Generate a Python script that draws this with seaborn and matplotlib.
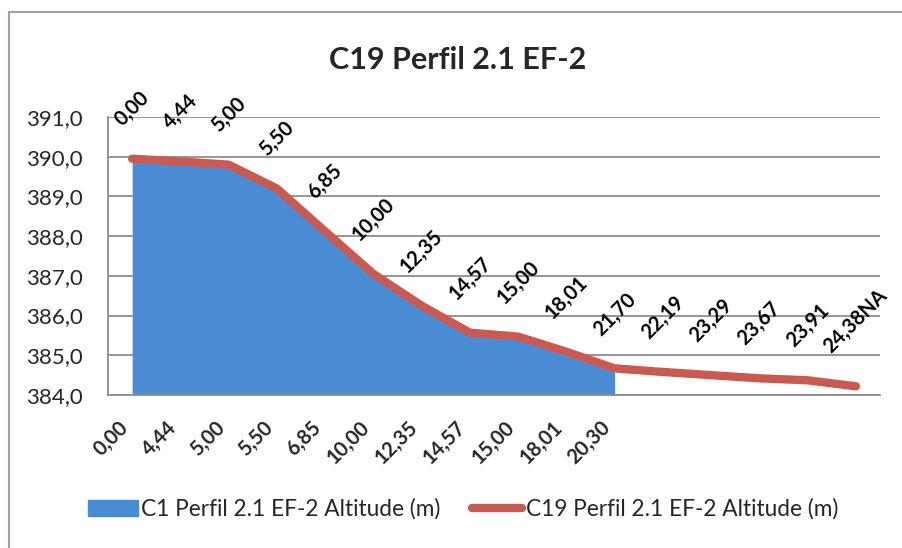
import matplotlib
matplotlib.use("Agg")
import matplotlib.pyplot as plt
import seaborn as sns
import pandas as pd
from matplotlib.patches import Rectangle, Patch
from matplotlib.lines import Line2D

title = "C19 Perfil 2.1 EF-2"
area_name = "C1 Perfil 2.1 EF-2 Altitude (m)"
line_name = "C19 Perfil 2.1 EF-2 Altitude (m)"

category_labels = ["0,00", "4,44", "5,00", "5,50", "6,85", "10,00", "12,35",
                   "14,57", "15,00", "18,01", "20,30"]
area_values = [389.88, 389.80, 389.72, 389.15, 388.05, 387.00, 386.15,
               385.50, 385.40, 385.00, 384.58]

line_labels = ["0,00", "4,44", "5,00", "5,50", "6,85", "10,00", "12,35",
               "14,57", "15,00", "18,01", "21,70", "22,19", "23,29", "23,67",
               "23,91", "24,38NA"]
line_values = [389.95, 389.88, 389.80, 389.20, 388.12, 387.05, 386.25,
               385.57, 385.47, 385.09, 384.67, 384.58, 384.50, 384.42,
               384.37, 384.22]

y_ticks = [384.0, 385.0, 386.0, 387.0, 388.0, 389.0, 390.0, 391.0]

sns.set_style("white")
plt.rcParams["font.family"] = ["Lato", "DejaVu Sans"]

BLUE = "#4A8CD3"
RED = "#C95A52"
GRID = "#8E8E8E"

area_df = pd.DataFrame({"pos": range(len(area_values)), "alt": area_values})
line_df = pd.DataFrame({"pos": range(len(line_values)), "alt": line_values,
                        "lab": line_labels})

fig = plt.figure(figsize=(9.02, 5.48), dpi=100)
W, H = 902, 548
ax = fig.add_axes([108 / W, 1 - 395 / H, (880 - 108) / W, (395 - 117) / H])

ax.fill_between(area_df["pos"], area_df["alt"], y_ticks[0], color=BLUE,
                lw=0, zorder=2)
sns.lineplot(data=line_df, x="pos", y="alt", color=RED, lw=6,
             solid_capstyle="round", solid_joinstyle="round", ax=ax, zorder=3)

for _, r in line_df.iterrows():
    ax.annotate(r["lab"], (r["pos"], r["alt"]), xytext=(0, 21),
                textcoords="offset points", rotation=45, ha="center",
                va="bottom", fontsize=14.5, fontweight="bold", color="black",
                zorder=4)

ax.set_xlim(-0.5, len(line_values) - 0.5)
ax.set_ylim(y_ticks[0], y_ticks[-1])
ax.set_yticks(y_ticks)
ax.set_yticklabels([f"{v:.1f}".replace(".", ",") for v in y_ticks], fontsize=16)
ax.set_xticks(range(len(category_labels)))
ax.set_xticklabels(category_labels, rotation=45, ha="right", fontsize=14.5,
                   fontweight="bold")
ax.tick_params(axis="x", length=0, pad=16)
ax.tick_params(axis="y", length=0, pad=18)
ax.set_xlabel("")
ax.set_ylabel("")
ax.yaxis.grid(True, color=GRID, lw=1.3, zorder=0)
ax.xaxis.grid(False)
ax.set_axisbelow(True)
for s in ["top", "right"]:
    ax.spines[s].set_visible(False)
for s in ["left", "bottom"]:
    ax.spines[s].set_color(GRID)
    ax.spines[s].set_linewidth(1.3)

fig.text(458 / W, 1 - 60 / H, title, ha="center", va="center", fontsize=22,
         fontweight="bold")

handles = [Patch(facecolor=BLUE, edgecolor=BLUE, label=area_name),
           Line2D([0], [0], color=RED, lw=6, solid_capstyle="round",
                  label=line_name)]
fig.legend(handles=handles, loc="center", bbox_to_anchor=(463 / W, 1 - 509 / H),
           ncol=2, frameon=False, fontsize=16.3, handlelength=2.2,
           handletextpad=0.15, columnspacing=1.4)

fig.patches.append(Rectangle((9 / W, -0.1), 1.2, 1.1 - 12 / H,
                             transform=fig.transFigure, fill=False,
                             edgecolor="#A0A0A0", lw=1.5))

fig.savefig("out.png", dpi=100)
